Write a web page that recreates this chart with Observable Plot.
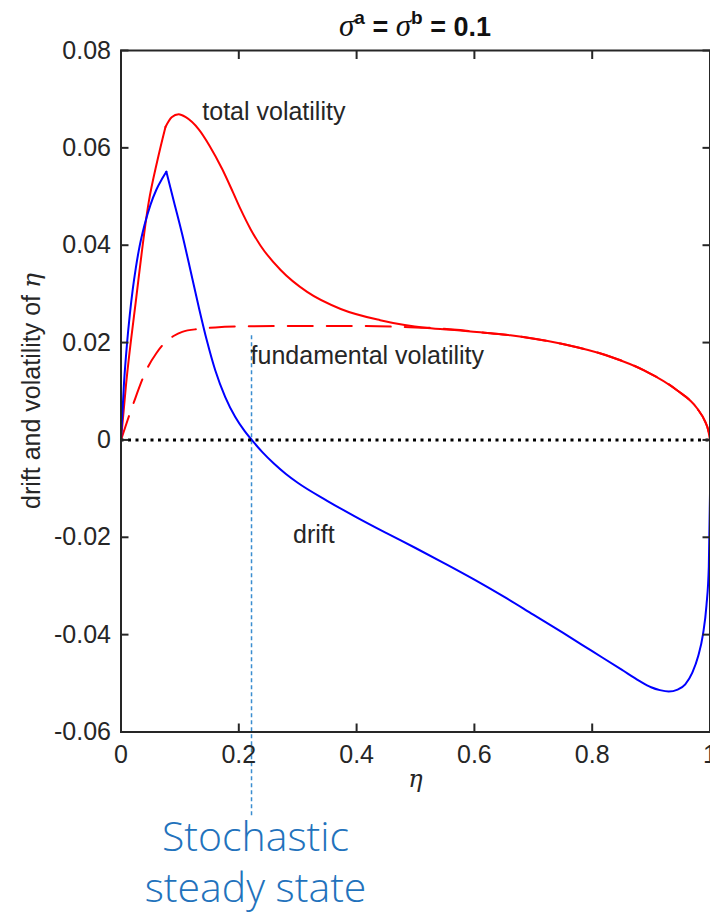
<!DOCTYPE html>
<html>
<head>
<meta charset="utf-8">
<script src="https://cdn.jsdelivr.net/npm/d3@7"></script>
<script src="https://cdn.jsdelivr.net/npm/@observablehq/plot@0.6"></script>
<style>
  body { margin: 0; background: #fff; }
  #chart { width: 710px; height: 914px; overflow: hidden; }
</style>
</head>
<body>
<div id="chart"></div>
<script>
// ---- data ----
const totalEta = [0, 0.0085, 0.025, 0.047, 0.0614, 0.0755, 0.086, 0.098, 0.11, 0.132, 0.15, 0.172, 0.19, 0.203, 0.22, 0.237, 0.271, 0.316, 0.373, 0.44, 0.52, 0.576, 0.61, 0.661, 0.746, 0.831, 0.888, 0.944, 0.978, 0.992, 0.997, 1.0];
const totalVol = [0, 0.0113, 0.0283, 0.0488, 0.0572, 0.0643, 0.0663, 0.0669, 0.0663, 0.0638, 0.0605, 0.0556, 0.0509, 0.0474, 0.0433, 0.0399, 0.0349, 0.0304, 0.0269, 0.0246, 0.0230, 0.0225, 0.0221, 0.0215, 0.0198, 0.0171, 0.0143, 0.0102, 0.0065, 0.0037, 0.0020, 0];
const totalKink = 0.0755;

const fundEta = [0, 0.011, 0.022, 0.0445, 0.06, 0.0755, 0.09, 0.104, 0.132, 0.16, 0.2, 0.3, 0.4, 0.48, 0.543, 0.576, 0.61, 0.661, 0.746, 0.831, 0.888, 0.944, 0.978, 0.992, 0.997, 1.0];
const fundVol = [0, 0.0040, 0.0078, 0.0147, 0.0178, 0.0201, 0.0214, 0.0222, 0.0228, 0.0231, 0.0233, 0.0234, 0.0234, 0.0232, 0.0229, 0.0226, 0.0221, 0.0215, 0.0198, 0.0171, 0.0143, 0.0102, 0.0065, 0.0037, 0.0020, 0];

const driftEta = [0, 0.005, 0.01, 0.015, 0.02, 0.025, 0.03, 0.04, 0.05, 0.06, 0.07, 0.077, 0.09, 0.104, 0.118, 0.132, 0.146, 0.16, 0.177, 0.194, 0.21, 0.222, 0.24, 0.26, 0.28, 0.30, 0.35, 0.40, 0.45, 0.50, 0.55, 0.60, 0.65, 0.70, 0.75, 0.80, 0.85, 0.88, 0.90, 0.915, 0.93, 0.945, 0.958, 0.97, 0.98, 0.988, 0.994, 0.998, 1.0];
const driftVal = [0, 0.0115, 0.0195, 0.0258, 0.0310, 0.0352, 0.0388, 0.0442, 0.0483, 0.0514, 0.0537, 0.0551, 0.0489, 0.0422, 0.0348, 0.0273, 0.0203, 0.0143, 0.0088, 0.0047, 0.0018, 0, -0.0025, -0.0049, -0.0070, -0.0088, -0.0125, -0.0159, -0.0191, -0.0222, -0.0254, -0.0287, -0.0322, -0.0359, -0.0396, -0.0434, -0.0472, -0.0495, -0.0508, -0.0514, -0.0517, -0.0513, -0.0502, -0.0478, -0.0444, -0.0400, -0.0340, -0.0260, -0.0110];
const driftKink = 0.077;

const xTicks = [0, 0.2, 0.4, 0.6, 0.8, 1];
const yTicks = [-0.06, -0.04, -0.02, 0, 0.02, 0.04, 0.06, 0.08];

const annotLabels = ["total volatility", "fundamental volatility", "drift"];
const annotEta = [0.138, 0.22, 0.292];
const annotVal = [0.0658, 0.0157, -0.0212];

const steadyEta = 0.2216;
const steadyTop = 0.0214;
const steadyBottom = -0.0774;
const steadyLabel = "Stochastic\nsteady state";
const steadyLabelVal = -0.0950;

// ---- build tables ----
function segmented(etas, vals, kink) {
  const rows = [];
  etas.forEach((e, i) => {
    if (e <= kink) rows.push({eta: e, v: vals[i], seg: 0});
    if (e >= kink) rows.push({eta: e, v: vals[i], seg: 1});
  });
  return rows;
}
const totalRows = segmented(totalEta, totalVol, totalKink);
const driftRows = segmented(driftEta, driftVal, driftKink);
const fundRows = fundEta.map((e, i) => ({eta: e, v: fundVol[i]}));
const annotRows = annotLabels.map((t, i) => ({t, eta: annotEta[i], v: annotVal[i]}));

const fmt = d => d === 0 ? "0" : String(+d.toFixed(2)).replace("\u2212", "-");
const ink = "#262626";

const plot = Plot.plot({
  width: 710,
  height: 914,
  marginLeft: 120.5,
  marginRight: 0.5,
  marginTop: 50,
  marginBottom: 182.5,
  style: {fontFamily: "Liberation Sans, Arial, sans-serif", fontSize: "25px", background: "white", color: ink},
  x: {domain: [0, 1]},
  y: {domain: [-0.06, 0.08]},
  marks: [
    Plot.ruleX([steadyEta], {y1: steadyTop, y2: steadyBottom, stroke: "#3A8DD0", strokeWidth: 1.5, strokeDasharray: "4,3", clip: false}),
    Plot.line(totalRows, {x: "eta", y: "v", z: "seg", stroke: "#FF0000", strokeWidth: 2, curve: "monotone-x"}),
    Plot.line(fundRows, {x: "eta", y: "v", stroke: "#FF0000", strokeWidth: 2, strokeDasharray: "25,14", curve: "monotone-x"}),
    Plot.line(driftRows, {x: "eta", y: "v", z: "seg", stroke: "#0000FF", strokeWidth: 2, curve: "monotone-x"}),
    Plot.ruleY([0], {stroke: "#000", strokeWidth: 3, strokeDasharray: "3,4.5"}),
    Plot.text(annotRows, {x: "eta", y: "v", text: "t", textAnchor: "start", lineAnchor: "bottom", fontSize: 25, fill: ink}),
    Plot.text([steadyLabel], {x: steadyEta, y: steadyLabelVal, text: d => d, dx: 4, textAnchor: "middle", lineAnchor: "bottom", lineHeight: 1.25, fontSize: 41, fontWeight: 300, fontFamily: "Open Sans, Lato, sans-serif", fill: "#2272BC", clip: false}),
    Plot.frame({stroke: ink, strokeWidth: 2}),
    Plot.axisY({anchor: "left", ticks: yTicks, tickFormat: fmt, tickSize: -8, tickPadding: 18, strokeWidth: 2, label: null, fill: ink}),
    Plot.axisY({anchor: "right", ticks: yTicks, tickFormat: () => "", tickSize: -8, strokeWidth: 2, label: null}),
    Plot.axisX({anchor: "bottom", ticks: xTicks, tickFormat: fmt, tickSize: -8, tickPadding: 21, strokeWidth: 2, label: null, fill: ink}),
    Plot.axisX({anchor: "top", ticks: xTicks, tickFormat: () => "", tickSize: -8, strokeWidth: 2, label: null}),
    Plot.text(["\u03B7"], {frameAnchor: "bottom", dy: 47, text: d => d, fontStyle: "italic", fontFamily: "DejaVu Serif, serif", fontSize: 24, fill: ink, lineAnchor: "middle"})
  ]
});

document.getElementById("chart").appendChild(plot);

// title with superscripts
const svg = d3.select(plot);
const title = svg.append("text")
  .attr("x", 415).attr("y", 36).attr("text-anchor", "middle")
  .attr("font-family", "Liberation Sans, Arial, sans-serif")
  .attr("font-size", 27).attr("font-weight", "bold").attr("fill", "#111");
const addSigma = () => title.append("tspan").attr("font-family", "Liberation Serif, serif").attr("font-style", "italic").attr("font-weight", "normal").attr("font-size", 31).text("\u03C3");
addSigma();
title.append("tspan").attr("font-size", 19).attr("dy", -12).text("a");
title.append("tspan").attr("dy", 12).text(" = ");
addSigma();
title.append("tspan").attr("font-size", 19).attr("dy", -12).text("b");
title.append("tspan").attr("dy", 12).text(" = 0.1");

// y-axis label
const yl = svg.append("text")
  .attr("transform", "translate(40,391) rotate(-90)")
  .attr("text-anchor", "middle")
  .attr("font-family", "Liberation Sans, Arial, sans-serif")
  .attr("font-size", 25).attr("fill", ink);
yl.append("tspan").text("drift and volatility of ");
yl.append("tspan").attr("font-family", "DejaVu Serif, serif").attr("font-style", "italic").text("\u03B7");
</script>
</body>
</html>
